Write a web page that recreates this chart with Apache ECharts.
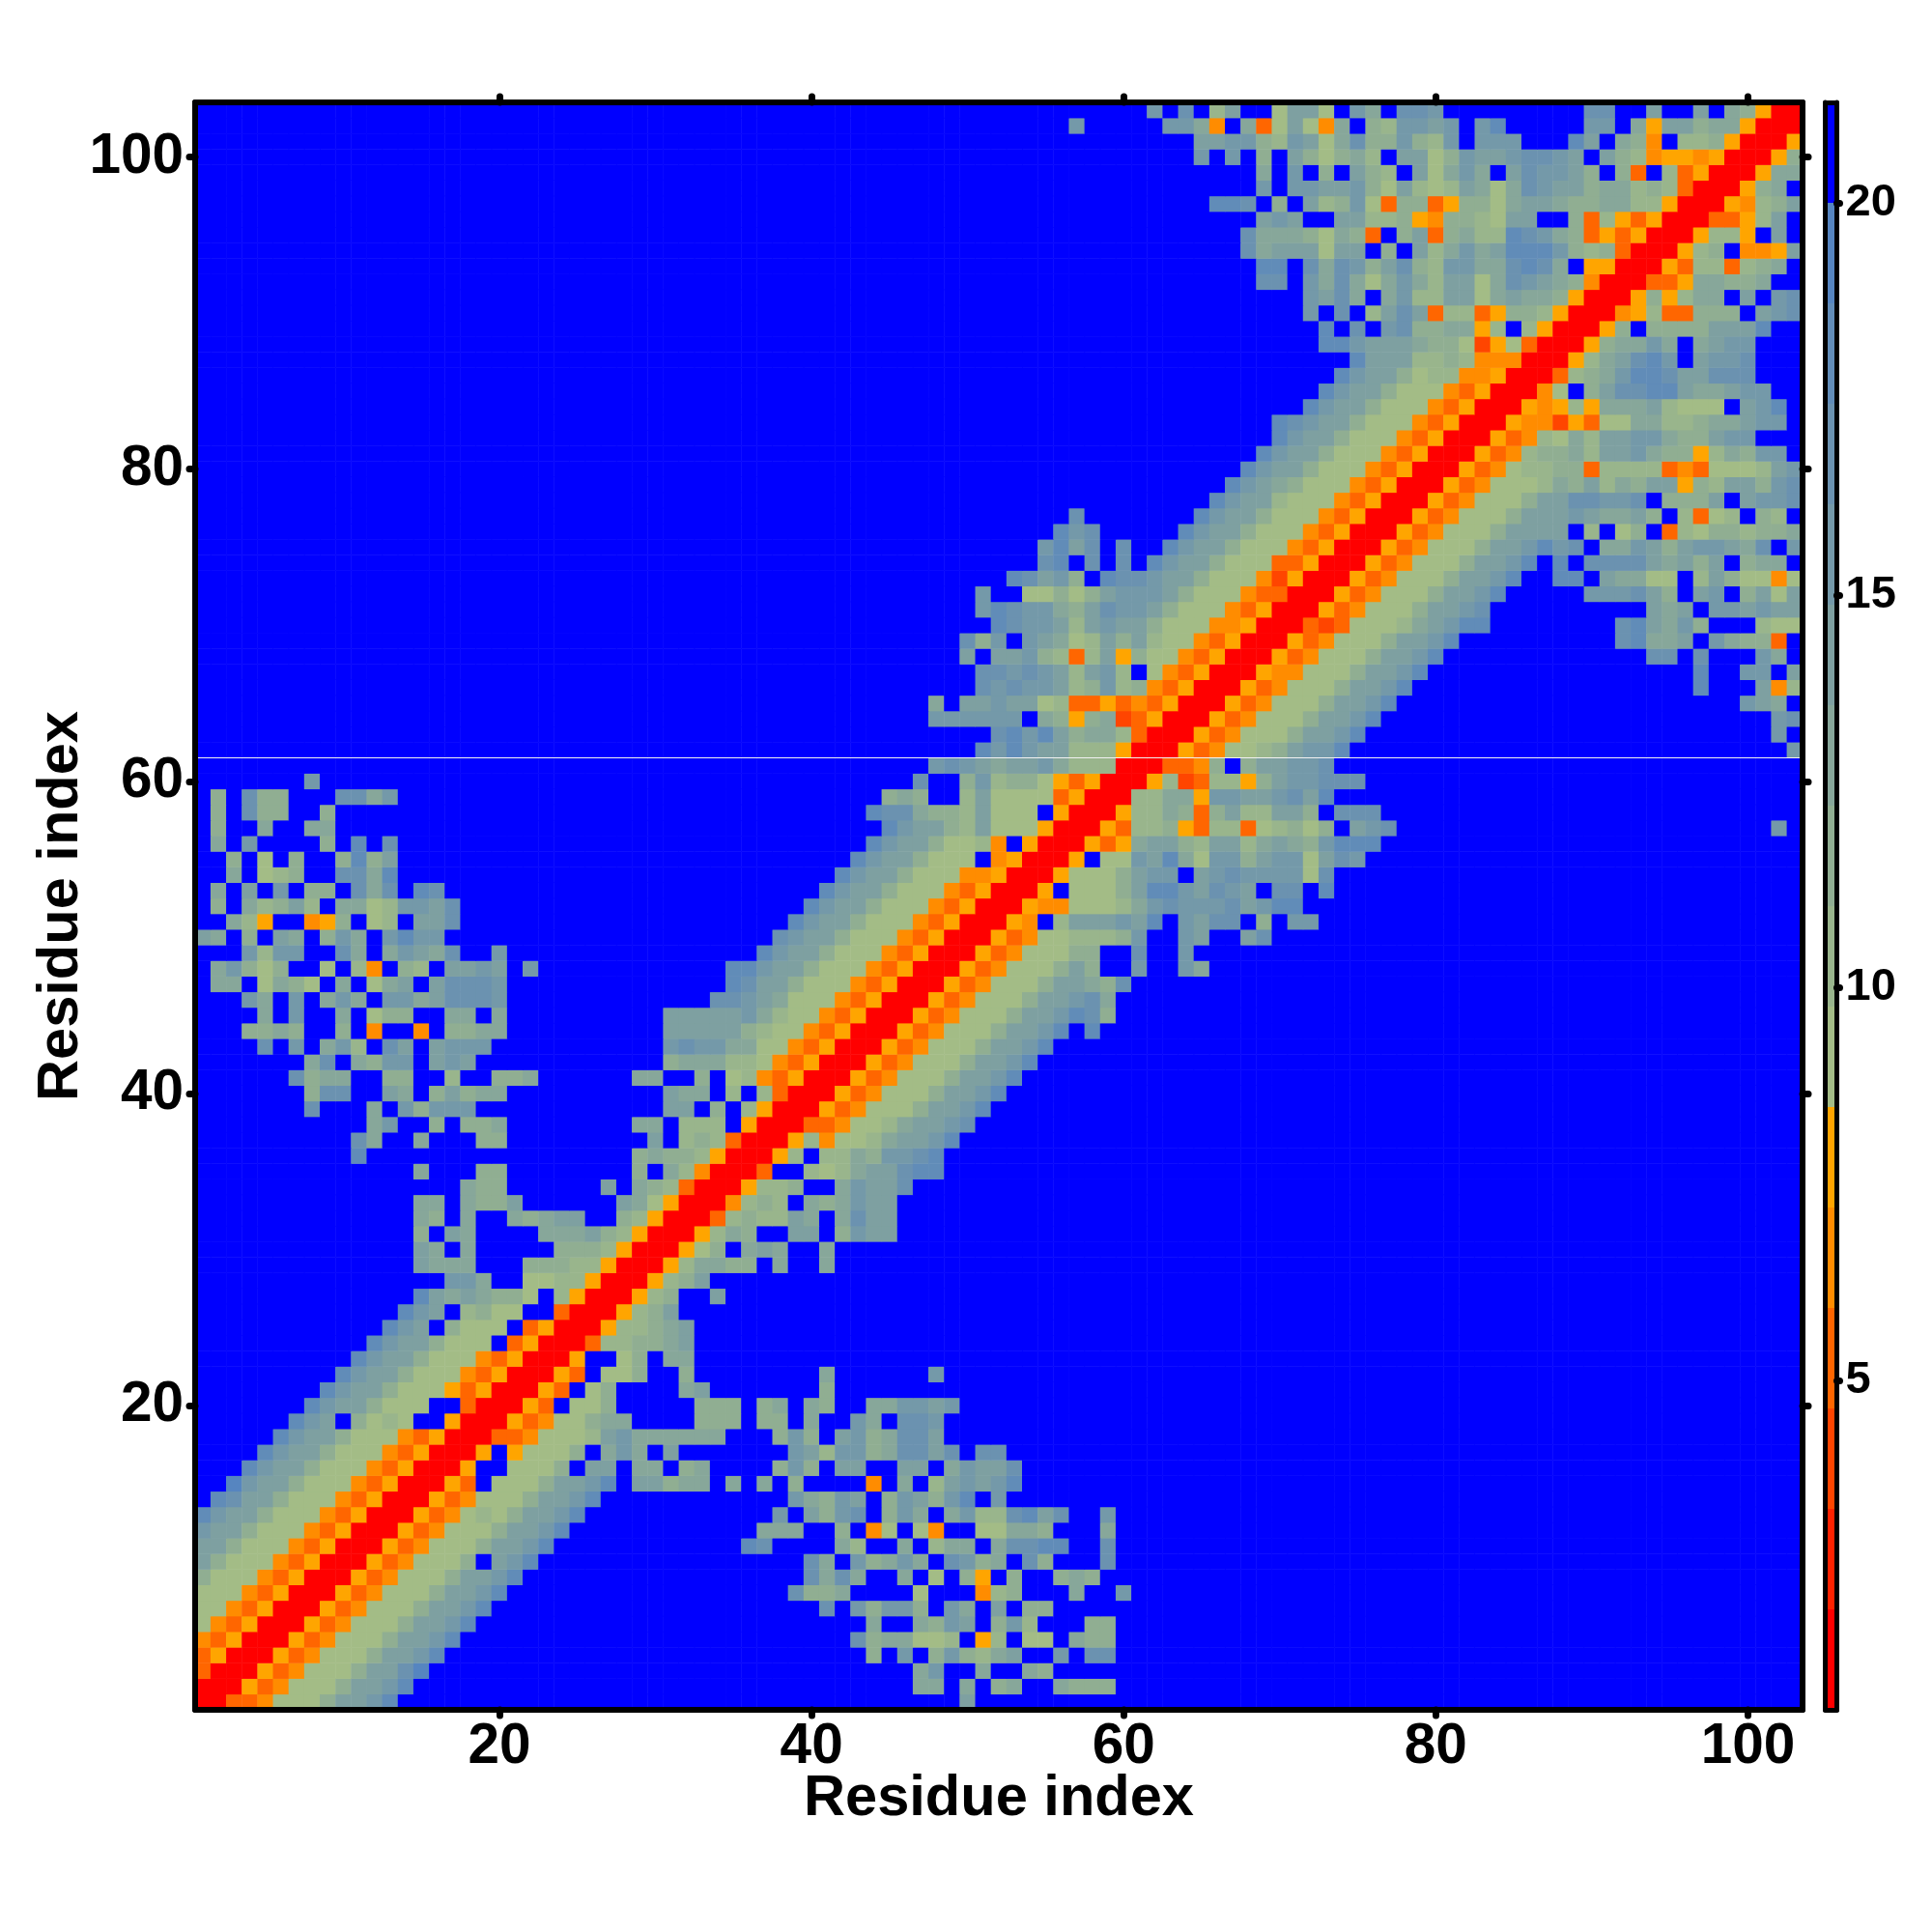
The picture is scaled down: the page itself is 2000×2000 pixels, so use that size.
<!DOCTYPE html>
<html>
<head>
<meta charset="utf-8">
<style>html,body{margin:0;padding:0;background:#fff}#c{width:2000px;height:2000px}</style>
<script src="https://cdn.jsdelivr.net/npm/echarts@6/dist/echarts.min.js"></script>
</head>
<body>
<div id="c"></div>
<script>
// Distance map. One entry per residue y; tokens are "x:cells"
// for x >= y (the map is symmetric). Uncovered cells and '.' are the over-20 class.
const upperRows = [
"1:rrddo11135568 50:5",
"2:rrado11135568 47:44 50:4 52:34 56:4333",
"3:rrado11135579 47:46 51:4 54:43",
"4:rrado11135568 44:3 46:6 48:363245 56:6 58:77",
"5:rrado11135568 43:7344112 51:a2 54:11 57:433",
"6:rrado11135568 44:4 47:4365 52:362 58:33",
"7:rrado11135568 41:7 43:63663 49:64 52:5 54:33",
"8:rrado11135568 39:7334 47:1 51:o23 57:4 60:6",
"9:rrado11135568 40:7474 46:4 48:1 50:3a 53:3 56:343",
"10:rrado1113.568 40:74 43:63464 49:7634 54:73 59:7",
"11:rrado11135568 36:87 42:42 46:4 48:244 52:47788 59:7",
"12:rrado11135568 37:444 42:3 44:o1 47:1o 51:11443 59:4",
"13:rrado12135568 38:6 40:5367 45:364 49:46227857 59:6",
"14:rrado11135568 39:64365 45:365368 52:6",
"15:rrad.11135568 29:55344 35:4 37:4 39:3 44:o 46:4 48:256568",
"16:rra..1113.55.44. 32:34 38:363 42:55 46:55 49:46557",
"17:rra.a1113.464.5 39:65266347757 51:77",
"18:rrddo111256444444 38:363 42:5634775",
"19:rrado11344 33:333 37:33 40:4 43:64 46:776",
"20:rrad.113 33:333 37:34 40:43 44:446656",
"21:rrad.13 32:45 41:3",
"22:rrad.113 32:3 41:4 48:6",
"23:rra..13.44",
"24:rrd223345",
"25:rra22345",
"26:rra235",
"27:rra23 34:5",
"28:rra235",
"29:rra24433 38:4 41:4",
"30:rra13.454 41:4",
"31:rra243..55.3655",
"32:rrd232254.4755",
"33:rro232.434655",
"34:rra223..46557",
"35:rrd..212455788",
"36:rra2.22436678",
"37:rra2o11245568",
"38:rrddo11245567",
"39:rrado11135568",
"40:rrado11135568",
"41:rrado11135568",
"42:rrado11135568",
"43:rrado11135568",
"44:rrado11135568 58:8",
"45:rrado11135568 58:73",
"46:rrado111355674",
"47:rrado111355437",
"48:rrado111353 61:6 64:64",
"49:rrado11133 61:7 64:6",
"50:rrado1122236 64:65 68:57",
"51:rrao.2555658.6577.3.66",
"52:rraoo111246766675688",
"53:rra.111358865765.77.8",
"54:rra1113566.567666617",
"55:rra.11658416635661576",
"56:rrada4553255245436888",
"57:rrad223ad22d12313.567 102:6",
"58:rra2243d3522553.777",
"59:rr2244a66556758",
"60:rra2nd22a3566777",
"61:rrddo3.355667",
"62:rrado11235668 103:6",
"63:rrado11135568 102:6",
"64:rrado11135568 102:67",
"65:rrado11135568 100:654",
"66:rrado11135568 97:8 101:5o2",
"67:rraoo11135568 97:8 100:66 103:5",
"68:rrado11135568 94:77 97:7 101:64",
"69:rrado11135568 92:78445.6433d",
"70:rrdnd111245688 92:785463 101:211",
"71:rrado11135567 94:545 98:665655",
"72:rrado11135568 90:666753.56.3515",
"73:rrado11135568 88:88 91:54411.25311o1",
"74:rrado11135568 88:8 90:777754535.344",
"75:rrado11135568 88:67 91:44653566547.6",
"76:rrado11135555.2.13.d21332334",
"77:rrado1113555654453.2d12.32",
"78:rrado11135577667.3335.5667",
"79:rrado111243524355a3255367",
"80:rrado12233d2222dod111256",
"81:rrado23342556433a24366",
"82:rrado21425566433566",
"83:rraoonad114422344566",
"84:rraoa2a44452111.568",
"85:rro1.357788544566",
"86:rrd234688755777",
"87:rra245786.5667",
"88:rra34464.4566",
"89:rra3.33335558",
"90:rroa2dd333.567",
"91:rra3a244.5.67",
"92:rrdda44334",
"93:rrad22d234",
"94:rra23.ooa5",
"95:rra22a.5",
"96:rrdda25",
"97:rrao235",
"98:rra34",
"99:rra44",
"100:rra3",
"101:rra",
"102:rr",
"103:r"
];
const residues = upperRows.map((_, i) => String(i + 1));

// Class of each cell code -> distance
const cellCodes  = ['r','n','d','o','a','1','2','3','4','5','6','7','8','9','.'];
const cellValues = [1.5,4.0,5.3,6.5,7.8,9.12,10.4,11.68,12.96,14.24,15.52,16.8,18.08,19.36,20.64];

// Colour bar classes
const barEdges  = [0.8,2.08,3.36,4.64,5.92,7.2,8.48,9.76,11.04,12.32,13.6,14.88,16.16,17.44,18.72,20,21.28];
const barColors = ['#ff0000','#ff2200','#ff4500','#ff6600','#ff8c00','#ffa500','#a3bc86','#99b58c','#90ae92','#87a79a','#7ea0a1','#7499a9','#6b92b0','#618cb8','#5685c0','#0000ff'];
const barTicks  = [5,10,15,20];
const xyTickStep = 20;
const seamAt = 61.5;

const lookup = {};
cellCodes.forEach((c, i) => lookup[c] = cellValues[i]);
const blue = lookup['.'];
const n = residues.length;
const M = [];
for (let y = 0; y < n; y++) { M.push(new Array(n).fill(blue)); }
upperRows.forEach((row, i) => {
  row.split(' ').forEach(tok => {
    const p = tok.indexOf(':');
    const start = parseInt(tok.slice(0, p), 10) - 1;
    const cellsRead = tok.slice(p + 1);
    for (let k = 0; k < cellsRead.length; k++) {
      const v = lookup[cellsRead[k]];
      if (start + k < n) { M[i][start + k] = v; M[start + k][i] = v; }
    }
  });
});
const cells = [];
for (let y = 0; y < n; y++) { for (let x = 0; x < n; x++) { cells.push([x, y, M[y][x]]); } }

const FONT = '"Liberation Sans"';
const every = (i, v) => (+v) % xyTickStep === 0;
const lineS = { color: '#000', width: 6, cap: 'round' };
const tickS = { color: '#000', width: 7, cap: 'round' };
const mainLeft = 202, mainTop = 106, mainW = 1664, mainH = 1664;

const barStack = barColors.map((c, i) => ({
  type: 'bar', stack: 'cb', xAxisIndex: 2, yAxisIndex: 3, barWidth: '100%', silent: true, z: 2,
  itemStyle: { color: c }, data: [i === 0 ? barEdges[1] : barEdges[i + 1] - barEdges[i]]
}));

const chart = echarts.init(document.getElementById('c'), null, { renderer: 'canvas' });
chart.setOption({
  animation: false,
  backgroundColor: '#ffffff',
  textStyle: { fontFamily: FONT },
  grid: [
    { left: mainLeft, top: mainTop, width: mainW, height: mainH, containLabel: false },
    { left: 1889.5, top: mainTop, width: 12, height: mainH, containLabel: false }
  ],
  visualMap: {
    show: false, type: 'piecewise', seriesIndex: 0, dimension: 2,
    pieces: barColors.map((c, i) => ({ gte: barEdges[i], lt: barEdges[i + 1], color: c }))
  },
  xAxis: [
    { type: 'category', gridIndex: 0, data: residues, position: 'bottom', z: 10,
      axisLine: { lineStyle: lineS },
      axisTick: { show: true, interval: every, alignWithLabel: true, length: 6, lineStyle: tickS },
      axisLabel: { interval: every, margin: 9, fontFamily: FONT, fontWeight: 'bold', fontSize: 58.5, color: '#000', hideOverlap: false },
      splitLine: { show: false },
      name: 'Residue index', nameLocation: 'middle', nameGap: 63, nameMoveOverlap: false,
      nameTextStyle: { fontFamily: FONT, fontWeight: 'bold', fontSize: 59.6, color: '#000' } },
    { type: 'category', gridIndex: 0, data: residues, position: 'top', z: 10,
      axisLine: { lineStyle: lineS },
      axisTick: { show: true, interval: every, alignWithLabel: true, length: 6, lineStyle: tickS },
      axisLabel: { show: false }, splitLine: { show: false } },
    { type: 'category', gridIndex: 1, data: ['bar'], position: 'bottom', z: 10,
      axisLine: { lineStyle: { color: '#000', width: 5, cap: 'round' } }, axisTick: { show: false }, axisLabel: { show: false } },
    { type: 'category', gridIndex: 1, data: ['bar'], position: 'top', z: 10,
      axisLine: { lineStyle: { color: '#000', width: 5, cap: 'round' } }, axisTick: { show: false }, axisLabel: { show: false } }
  ],
  yAxis: [
    { type: 'category', gridIndex: 0, data: residues, position: 'left', z: 10,
      axisLine: { lineStyle: lineS },
      axisTick: { show: true, interval: every, alignWithLabel: true, length: 6, lineStyle: tickS },
      axisLabel: { interval: every, margin: 12, fontFamily: FONT, fontWeight: 'bold', fontSize: 58.5, color: '#000', hideOverlap: false },
      splitLine: { show: false },
      name: 'Residue index', nameLocation: 'middle', nameGap: 108, nameRotate: 90, nameMoveOverlap: false,
      nameTextStyle: { fontFamily: FONT, fontWeight: 'bold', fontSize: 59.6, color: '#000' } },
    { type: 'category', gridIndex: 0, data: residues, position: 'right', z: 10,
      axisLine: { lineStyle: lineS },
      axisTick: { show: true, interval: every, alignWithLabel: true, length: 6, lineStyle: tickS },
      axisLabel: { show: false }, splitLine: { show: false } },
    { type: 'value', gridIndex: 0, show: false, min: 0.5, max: 103.5, splitLine: { show: false } },
    { type: 'value', gridIndex: 1, position: 'right', min: barEdges[0], max: barEdges[barEdges.length - 1], z: 10,
      axisLine: { show: true, lineStyle: { color: '#000', width: 5, cap: 'round' } },
      axisTick: { show: true, customValues: barTicks, length: 3, lineStyle: tickS },
      axisLabel: { show: true, customValues: barTicks, margin: 9, fontFamily: FONT, fontWeight: 'bold', fontSize: 47, color: '#000', hideOverlap: false },
      splitLine: { show: false } },
    { type: 'value', gridIndex: 1, position: 'left', min: barEdges[0], max: barEdges[barEdges.length - 1], z: 10,
      axisLine: { show: true, lineStyle: { color: '#000', width: 5, cap: 'round' } },
      axisTick: { show: false }, axisLabel: { show: false }, splitLine: { show: false } }
  ],
  series: [
    { type: 'heatmap', xAxisIndex: 0, yAxisIndex: 0, data: cells, progressive: 0, silent: true, z: 2,
      itemStyle: { borderWidth: 0 }, label: { show: false }, emphasis: { disabled: true } },
    { type: 'line', xAxisIndex: 0, yAxisIndex: 2, data: [[0, seamAt], [n - 1, seamAt]], showSymbol: false, silent: true, z: 3,
      lineStyle: { color: '#f2f2f2', width: 1 },
      markLine: { silent: true, symbol: 'none', animation: false, label: { show: false },
        lineStyle: { color: '#f2f2f2', width: 1, type: 'solid' }, data: [{ yAxis: seamAt }] } }
  ].concat(barStack)
});
</script>
</body>
</html>
